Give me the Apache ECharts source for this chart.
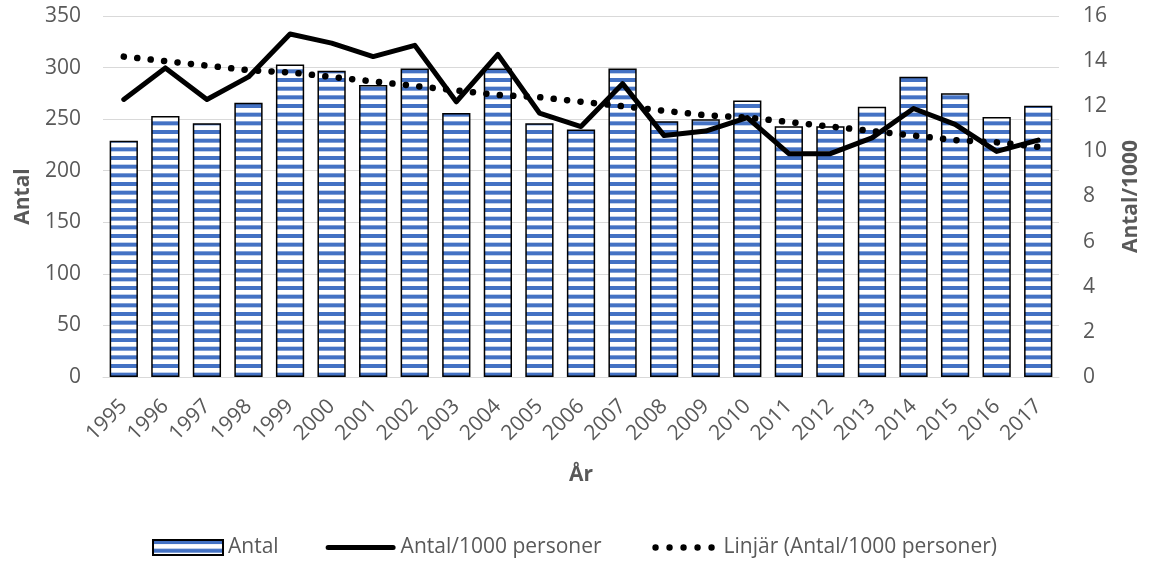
<!DOCTYPE html>
<html>
<head>
<meta charset="utf-8">
<script src="https://cdn.jsdelivr.net/npm/echarts@6/dist/echarts.min.js"></script>
<style>
html,body{margin:0;padding:0;background:#fff;}
#chart{width:1149px;height:563px;}
</style>
</head>
<body>
<div id="chart"></div>
<script>
const years = ['1995','1996','1997','1998','1999','2000','2001','2002','2003','2004','2005','2006','2007','2008','2009','2010','2011','2012','2013','2014','2015','2016','2017'];
const antal = [229,253,246,266,303,297,283,299,256,299,246,240,299,248,250,268,243,243,262,291,275,252,263];
const antalPer1000 = [12.3,13.7,12.3,13.3,15.2,14.8,14.2,14.7,12.2,14.3,11.7,11.1,13.0,10.7,10.9,11.5,9.9,9.9,10.6,11.9,11.2,10.0,10.5];
const trend = [14.2,14.0,13.8,13.6,13.5,13.3,13.1,12.9,12.7,12.5,12.4,12.2,12.0,11.8,11.6,11.5,11.3,11.1,10.9,10.7,10.5,10.4,10.2];
const leftTicks = {min:0, max:350, interval:50};
const rightTicks = {min:0, max:16, interval:2};
const legendNames = ['Antal','Antal/1000 personer','Linjär (Antal/1000 personer)'];

// stripe pattern
const pc = document.createElement('canvas');
pc.width = 8; pc.height = 26;
const pctx = pc.getContext('2d');
pctx.fillStyle = '#ffffff';
pctx.fillRect(0,0,8,26);
pctx.fillStyle = '#4472C4';
for (let i=0;i<3;i++){ pctx.fillRect(0, i*26/3, 8, 4); }

const FONT = 'Open Sans';
const GRAY = '#595959';

// legend icons (bounding box 70x15 kept by tiny corner marks)
const corners = 'M0,0 L0.01,0 L0,0.01 Z M70,15 L69.99,15 L70,14.99 Z ';
const lineIcon = 'path://' + corners + 'M2.5,5 L67.5,5 A2.5,2.5 0 0 1 67.5,10 L2.5,10 A2.5,2.5 0 0 1 2.5,5 Z';
let dotPath = corners;
[7,21,35,49,63].forEach(function(cx){
  dotPath += 'M' + (cx-3.2) + ',7.5 A3.2,3.2 0 1 1 ' + (cx+3.2) + ',7.5 A3.2,3.2 0 1 1 ' + (cx-3.2) + ',7.5 Z ';
});
const dotIcon = 'path://' + dotPath;

const chart = echarts.init(document.getElementById('chart'), null, {renderer:'canvas'});
chart.setOption({
  animation:false,
  backgroundColor:'#ffffff',
  textStyle:{fontFamily:FONT},
  grid:{left:103, right:90, top:16, bottom:186, containLabel:false, outerBoundsMode:'none'},
  legend:{
    left:'center', top:532,
    itemWidth:70, itemHeight:15, itemGap:47,
    textStyle:{color:GRAY, fontSize:21, fontFamily:FONT},
    data:[
      {name:legendNames[0], icon:'rect'},
      {name:legendNames[1], icon:lineIcon},
      {name:legendNames[2], icon:dotIcon}
    ]
  },
  xAxis:{
    type:'category', data:years,
    name:'År', nameLocation:'middle', nameGap:88,
    nameTextStyle:{color:GRAY, fontSize:21, fontWeight:'bold', fontFamily:FONT},
    axisLine:{lineStyle:{color:'#D9D9D9', width:1}},
    axisTick:{show:false},
    axisLabel:{rotate:45, color:GRAY, fontSize:21, fontFamily:FONT, margin:26, interval:0}
  },
  yAxis:[{
    type:'value', min:leftTicks.min, max:leftTicks.max, interval:leftTicks.interval,
    name:'Antal', nameLocation:'middle', nameRotate:90, nameGap:69,
    nameTextStyle:{color:GRAY, fontSize:21, fontWeight:'bold', fontFamily:FONT},
    axisLine:{show:false}, axisTick:{show:false},
    axisLabel:{color:GRAY, fontSize:21, fontFamily:FONT, margin:22},
    splitLine:{lineStyle:{color:'#D9D9D9', width:1}}
  },{
    type:'value', position:'right', min:rightTicks.min, max:rightTicks.max, interval:rightTicks.interval,
    name:'Antal/1000', nameLocation:'middle', nameRotate:90, nameGap:62,
    nameTextStyle:{color:GRAY, fontSize:21, fontWeight:'bold', fontFamily:FONT},
    axisLine:{show:false}, axisTick:{show:false},
    axisLabel:{color:GRAY, fontSize:21, fontFamily:FONT, margin:24},
    splitLine:{show:false}
  }],
  series:[{
    name:legendNames[0], type:'bar', data:antal, barCategoryGap:'32%',
    itemStyle:{color:{image:pc, repeat:'repeat'}, borderColor:'#000000', borderWidth:1.5},
    z:2
  },{
    name:legendNames[1], type:'line', yAxisIndex:1, data:antalPer1000,
    symbol:'none', showSymbol:false,
    lineStyle:{color:'#000000', width:5, join:'round', cap:'round'},
    itemStyle:{color:'#000000'},
    z:3
  },{
    name:legendNames[2], type:'line', yAxisIndex:1, data:trend,
    symbol:'none', showSymbol:false,
    lineStyle:{color:'#000000', width:6.5, type:[0.1,13.4], cap:'round'},
    itemStyle:{color:'#000000'},
    z:4
  }]
});
</script>
</body>
</html>
